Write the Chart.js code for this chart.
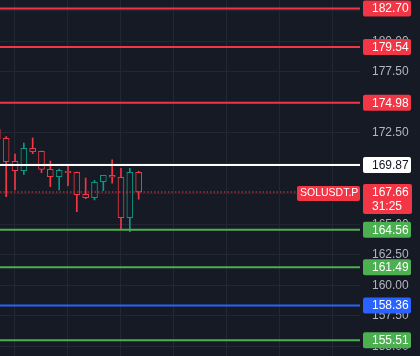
<!DOCTYPE html>
<html><head><meta charset="utf-8">
<script src="https://cdn.jsdelivr.net/npm/chart.js@4"></script>
<style>html,body{margin:0;padding:0;background:#161a25;}canvas{display:block}</style>
</head><body><canvas id="c" width="420" height="356"></canvas>
<script>
// ---- data ----
const candleIndex = [1,2,3,4,5,6,7,8,9,10,11,12,13,14,15,16,17];
const opens  = [172.83,172.07,170.18,169.41,171.25,171.00,169.52,168.92,169.36,169.28,167.48,167.20,168.51,169.03,168.87,165.56,169.28];
const highs  = [173.00,172.20,170.78,171.68,172.09,171.02,170.20,169.55,169.88,169.30,168.81,168.62,169.03,170.29,169.61,169.61,169.36];
const lows   = [171.70,167.28,167.83,169.11,170.80,169.25,168.10,167.83,168.18,166.05,167.11,167.01,167.77,168.38,164.66,164.41,167.07];
const closes = [172.01,170.15,169.41,171.25,170.97,169.52,168.92,169.44,169.25,167.44,167.20,168.46,169.03,168.87,165.56,169.28,167.66];
const levels = [182.70,179.54,174.98,169.87,164.56,161.49,158.36,155.51];
const yTicks = [155,157.5,160,162.5,165,167.5,170,172.5,175,177.5,180,182.5];
const lastPrice = 167.66;
const symbol = 'SOLUSDT.P';
const countdown = '31:25';

// ---- style ----
const BG = '#161a25', UP = '#089981', DOWN = '#f23645';
const levelColors = ['#f23645','#f23645','#f23645','#ffffff','#4caf50','#4caf50','#2962ff','#4caf50'];
const levelTextColors = ['#fff','#fff','#fff','#131722','#fff','#fff','#fff','#fff'];
const XMIN = 1.302, XMAX = 42.06, YMIN = 154.22, YMAX = 183.40;

const candleColors = opens.map((o,i)=> closes[i] >= o ? UP : DOWN);
const wickData = candleIndex.map((x,i)=>({x, y:[lows[i], highs[i]]}));
const bodyData = candleIndex.map((x,i)=>({x, y:[opens[i], closes[i]]}));

const levelSets = levels.map((v,i)=>({
  type:'line', data:[{x:XMIN,y:v},{x:XMAX,y:v}], borderColor:levelColors[i],
  borderWidth:2, pointRadius:0, order:0
}));

function rr(ctx,x,y,w,h,r){ctx.beginPath();ctx.moveTo(x+r,y);ctx.lineTo(x+w-r,y);ctx.quadraticCurveTo(x+w,y,x+w,y+r);ctx.lineTo(x+w,y+h-r);ctx.quadraticCurveTo(x+w,y+h,x+w-r,y+h);ctx.lineTo(x+r,y+h);ctx.quadraticCurveTo(x,y+h,x,y+h-r);ctx.lineTo(x,y+r);ctx.quadraticCurveTo(x,y,x+r,y);ctx.closePath();ctx.fill();}

const tagPlugin = {
  id:'tags',
  afterDraw(chart){
    const ctx = chart.ctx, ys = chart.scales.y, L = chart.chartArea.right + 3;
    ctx.save();
    ctx.textBaseline = 'middle';
    ctx.font = '12px "Liberation Sans", Arial, sans-serif';
    levels.forEach((v,i)=>{
      const py = ys.getPixelForValue(v);
      ctx.fillStyle = levelColors[i];
      rr(ctx, L, py-8, 48, 16, 2);
      ctx.fillStyle = levelTextColors[i];
      ctx.fillText(v.toFixed(2), L+9, py+0.5);
    });
    const py = ys.getPixelForValue(lastPrice);
    ctx.fillStyle = DOWN;
    rr(ctx, L, py-8, 49, 30, 2);
    ctx.fillStyle = '#fff';
    ctx.fillText(lastPrice.toFixed(2), L+9, py+0.5);
    ctx.fillText(countdown, L+9, py+15);
    ctx.fillStyle = DOWN;
    rr(ctx, chart.chartArea.right-63, py-6, 63, 15, 2);
    ctx.fillStyle = '#fff';
    ctx.font = '10.5px "Liberation Sans", Arial, sans-serif';
    ctx.fillText(symbol, chart.chartArea.right-60, py+1);
    ctx.restore();
  }
};

function zeroPad(a){ a.paddingTop=0; a.paddingBottom=0; a.paddingLeft=0; a.paddingRight=0; }

new Chart(document.getElementById('c'), {
  type:'bar',
  data:{ datasets:[
    ...levelSets,
    {type:'line', data:[{x:XMIN,y:lastPrice},{x:XMAX,y:lastPrice}], borderColor:DOWN, borderWidth:1, borderDash:[1.5,2], pointRadius:0, order:0},
    {type:'bar', data:bodyData, backgroundColor:BG, borderColor:candleColors, borderWidth:1, borderSkipped:false, barThickness:6, grouped:false, order:1},
    {type:'bar', data:wickData, backgroundColor:candleColors, borderWidth:0, barThickness:1, grouped:false, order:2}
  ]},
  options:{
    responsive:false, animation:false, devicePixelRatio:1,
    layout:{padding:0},
    plugins:{legend:{display:false}, tooltip:{enabled:false}},
    scales:{
      x:{type:'linear', min:XMIN, max:XMAX, offset:false,
         ticks:{display:false, stepSize:6, padding:0}, border:{display:false},
         grid:{color:'#232733', drawTicks:false, lineWidth:1},
         afterBuildTicks(a){ a.ticks=[6,12,18,24,30,36,42].map(v=>({value:v})); },
         afterFit(a){ a.height=0; zeroPad(a); }},
      y:{type:'linear', position:'right', min:YMIN, max:YMAX,
         ticks:{color:'#b2b5be', padding:12, font:{size:12, family:'"Liberation Sans", Arial, sans-serif'},
                callback:v=>v.toFixed(2)},
         border:{display:false},
         grid:{color:'#232733', drawTicks:false, lineWidth:1},
         afterBuildTicks(a){ a.ticks=yTicks.map(v=>({value:v})); },
         afterFit(a){ a.width=60; zeroPad(a); }}
    }
  },
  plugins:[tagPlugin]
});
</script>
</body></html>
